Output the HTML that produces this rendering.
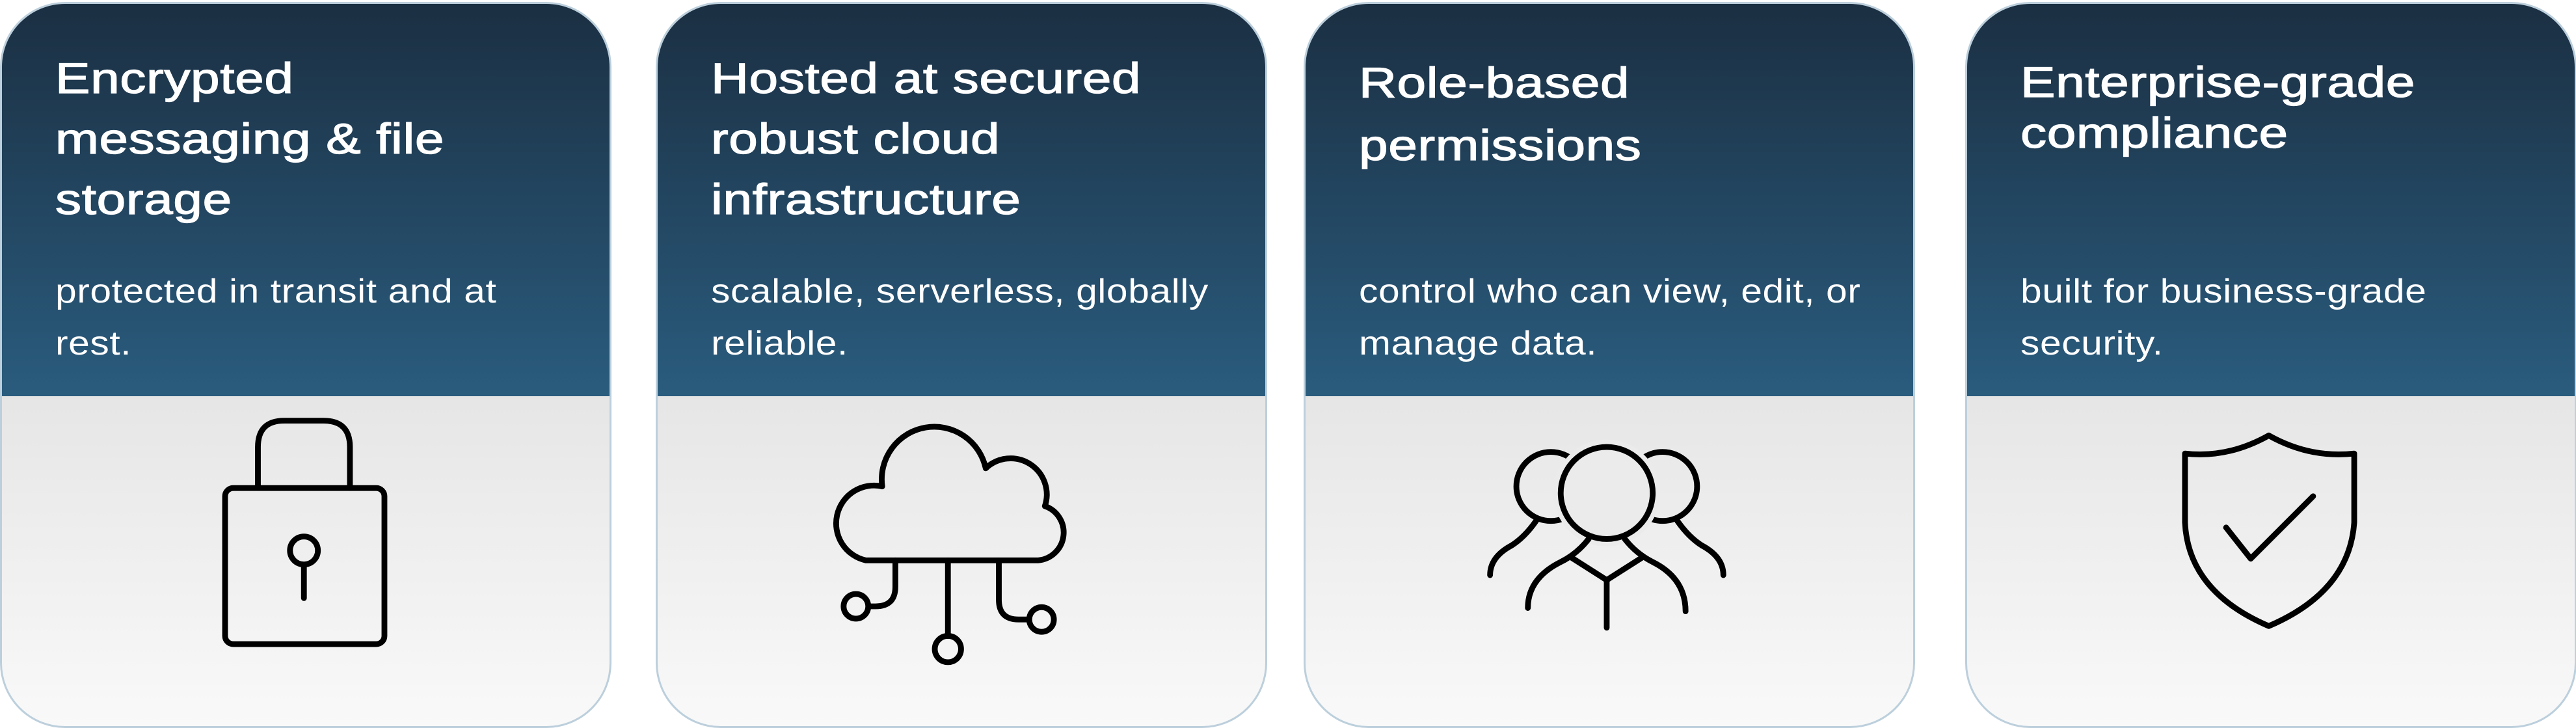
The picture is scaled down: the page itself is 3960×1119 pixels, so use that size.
<!DOCTYPE html>
<html><head><meta charset="utf-8"><style>
html,body{margin:0;padding:0;background:#fff;}
body{width:3960px;height:1119px;position:relative;overflow:hidden;font-family:"Liberation Sans",sans-serif;}
.card{position:absolute;top:3px;width:934px;height:1110px;border:3px solid #bccfdc;border-radius:100px;overflow:hidden;
background:linear-gradient(#e5e5e5 606px,#e6e6e6 610px,#f9f9f9 1110px);}
.hd{position:absolute;left:0;top:0;width:100%;height:603px;background:linear-gradient(#1b2f42,#2a5c7e);}
.t{position:absolute;left:82px;color:#fff;font-size:66px;line-height:93px;white-space:nowrap;-webkit-text-stroke:1.3px #fff;letter-spacing:0.5px;transform:scaleX(1.215);transform-origin:0 0;}
.s{position:absolute;left:82px;top:402px;color:#fff;font-size:52px;line-height:80px;white-space:nowrap;letter-spacing:0.5px;transform:scaleX(1.13);transform-origin:0 0;}
svg{position:absolute;left:0;top:0;}
</style></head><body>
<div class="card" style="left:0"><div class="hd"></div>
<div class="t" style="top:68px">Encrypted<br>messaging &amp; file<br>storage</div>
<div class="s">protected in transit and at<br>rest.</div></div>
<div class="card" style="left:1008px"><div class="hd"></div>
<div class="t" style="top:68px">Hosted at secured<br>robust cloud<br>infrastructure</div>
<div class="s">scalable, serverless, globally<br>reliable.</div></div>
<div class="card" style="left:2004px"><div class="hd"></div>
<div class="t" style="top:73px;line-height:96px">Role-based<br>permissions</div>
<div class="s">control who can view, edit, or<br>manage data.</div></div>
<div class="card" style="left:3021px"><div class="hd"></div>
<div class="t" style="top:81px;line-height:78px">Enterprise-grade<br>compliance</div>
<div class="s">built for business-grade<br>security.</div></div>
<svg width="3960" height="1119" viewBox="0 0 1568 443" fill="none" stroke="#000" stroke-width="3.5" stroke-linecap="round" stroke-linejoin="round">
<path d="M157,297 V272 Q157,256 173,256 H197 Q213,256 213,272 V297"/>
<rect x="137" y="297" width="97" height="95" rx="5"/>
<circle cx="185" cy="335" r="8.5"/>
<path d="M185,344 V364"/>
<path d="M527,341 H632 A17,17 0 0 0 636,308 A22,22 0 0 0 600,285 A32,32 0 0 0 537,296 A23,23 0 0 0 527,341 Z"/>
<path d="M545,341 V357 Q545,369 533,369 H529"/>
<circle cx="521" cy="369" r="7.5"/>
<path d="M577,341 V387"/>
<circle cx="577" cy="395" r="8"/>
<path d="M608,341 V365 Q608,377 620,377 H626"/>
<circle cx="634" cy="377" r="7.5"/>
<circle cx="944" cy="296" r="21"/>
<circle cx="1012" cy="296" r="21"/>
<circle cx="978" cy="300" r="28" stroke="#ebebeb" stroke-width="9" fill="#ebebeb"/>
<circle cx="978" cy="300" r="28"/>
<path d="M935,317 Q928,327 920,332 Q907,339 907,350"/>
<path d="M1021,317 Q1028,327 1036,332 Q1049,339 1049,350"/>
<path d="M967,328 Q960,337 950,342 Q930,352 930,370"/>
<path d="M989,328 Q996,337 1006,342 Q1026,352 1026,372"/>
<path d="M956,339 L978,353 L1000,339"/>
<path d="M978,353 V382"/>
<path d="M1381,265 Q1356,279 1330,276 V318 Q1332,360 1381,381 Q1430,360 1433,318 V276 Q1406,279 1381,265 Z"/>
<path d="M1355,321 L1370,340 L1408,302"/>
</svg>
</body></html>
